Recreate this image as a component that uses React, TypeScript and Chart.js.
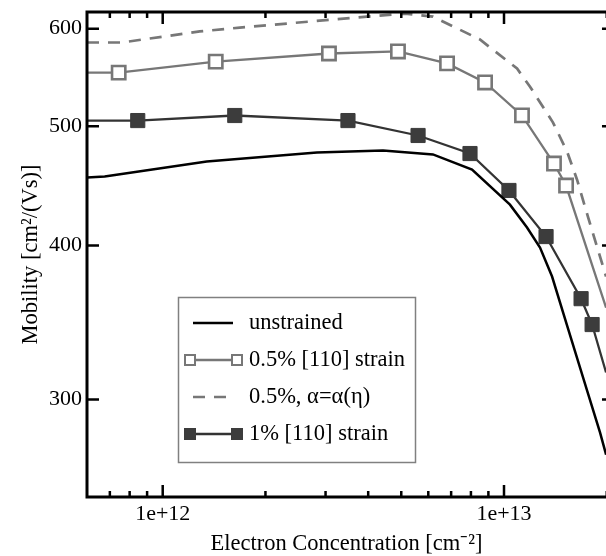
import React, { useEffect, useRef } from "react";
import { Chart, registerables } from "chart.js";

Chart.register(...registerables);

// ---------- data ----------
const seriesLabels = ["unstrained", "0.5% [110] strain", "0.5%, α=α(η)", "1% [110] strain"];

const unstrainedN = [6.0e11, 6.76e11, 1.346e12, 2.83e12, 4.42e12, 6.19e12, 8.06e12, 1.041e13, 1.168e13, 1.275e13, 1.383e13, 1.53e13, 1.751e13, 1.912e13, 1.991e13];
const unstrainedMu = [454.3, 455.1, 468.1, 476.1, 477.9, 474.3, 461.1, 431.8, 413.7, 398.5, 377.5, 344.5, 305.1, 282.0, 270.6];

const strain05N = [6.0e11, 7.43e11, 1.43e12, 3.07e12, 4.89e12, 6.81e12, 8.8e12, 1.129e13, 1.401e13, 1.52e13, 1.991e13];
const strain05Mu = [552.7, 552.7, 564.2, 572.8, 575.0, 562.3, 542.6, 510.2, 466.3, 447.5, 356.2];
const strain05Marked = [false, true, true, true, true, true, true, true, true, true, false];

const alphaN = [6.0e11, 7.58e11, 1.284e12, 1.682e12, 3.966e12, 5.13e12, 6.19e12, 8.5e12, 1.092e13, 1.192e13, 1.392e13, 1.53e13, 1.637e13, 1.764e13, 1.991e13];
const alphaMu = [584.7, 584.7, 596.9, 601.2, 613.7, 617.2, 613.7, 588.0, 556.9, 538.3, 503.4, 476.9, 452.4, 421.6, 377.5];

const strain1N = [6.0e11, 8.45e11, 1.626e12, 3.49e12, 5.6e12, 7.95e12, 1.034e13, 1.328e13, 1.682e13, 1.812e13, 1.991e13];
const strain1Mu = [505.3, 505.3, 510.1, 505.3, 491.4, 475.1, 443.4, 406.8, 362.2, 345.1, 315.5];
const strain1Marked = [false, true, true, true, true, true, true, true, true, true, false];

const xMin = 6.0e11;
const xMax = 1.99e13;
const xFrameMax = 2.1e13;
const yMin = 250;
const yMax = 619;
const xMajorTicks = [1e12, 1e13];
const xTickLabels = ["1e+12", "1e+13"];
const xMinorTicks = [7e11, 8e11, 9e11, 2e12, 3e12, 4e12, 5e12, 6e12, 7e12, 8e12, 9e12, 2e13];
const yTicks = [300, 400, 500, 600];
const yTickLabels = ["300", "400", "500", "600"];

const xTitle = "Electron Concentration [cm⁻²]";
const yTitle = "Mobility [cm²/(Vs)]";

// ---------- styles ----------
const FONT = "'Liberation Serif', 'Times New Roman', serif";
const GRAY = "#777777";
const DARK = "#3c3c3c";

const toPts = (xs: number[], ys: number[]) => xs.map((x, i) => ({ x, y: ys[i] }));

const framePlugin = {
  id: "frameAndLegend",
  afterDatasetsDraw(chart: any) {
    const { ctx, chartArea, scales } = chart;
    const xs = scales.x;
    const ys = scales.y;
    const left = chartArea.left;
    const top = chartArea.top;
    const bottom = chartArea.bottom;
    const right = xs.getPixelForValue(xFrameMax);
    ctx.save();
    ctx.strokeStyle = "#000";
    ctx.lineWidth = 3;
    ctx.beginPath();
    ctx.rect(left, top, right - left, bottom - top);
    ctx.stroke();
    ctx.lineWidth = 2.5;
    const vtick = (v: number, len: number) => {
      const p = xs.getPixelForValue(v);
      if (p < left || p > right) return;
      ctx.beginPath();
      ctx.moveTo(p, bottom);
      ctx.lineTo(p, bottom - len);
      ctx.moveTo(p, top);
      ctx.lineTo(p, top + len);
      ctx.stroke();
    };
    xMajorTicks.forEach((v) => vtick(v, 12));
    xMinorTicks.forEach((v) => vtick(v, 6));
    yTicks.forEach((v) => {
      const p = ys.getPixelForValue(v);
      ctx.beginPath();
      ctx.moveTo(left, p);
      ctx.lineTo(left + 12, p);
      ctx.moveTo(right, p);
      ctx.lineTo(right - 12, p);
      ctx.stroke();
    });
    ctx.restore();

    // legend
    const box = { l: 178, t: 297, w: 237, h: 165 };
    const rowY = [323, 360, 397, 434];
    ctx.save();
    ctx.fillStyle = "#fff";
    ctx.fillRect(box.l, box.t, box.w, box.h);
    ctx.strokeStyle = "#808080";
    ctx.lineWidth = 1.5;
    ctx.strokeRect(box.l + 0.5, box.t + 0.5, box.w, box.h);
    chart.data.datasets.forEach((ds: any, i: number) => {
      const y = rowY[i];
      const hasMarker = ds.pointStyle === "rect";
      const x1 = hasMarker ? 190 : 193;
      const x2 = hasMarker ? 237 : 233;
      ctx.save();
      ctx.strokeStyle = ds.borderColor;
      ctx.lineWidth = ds.borderWidth;
      ctx.setLineDash(ds.borderDash || []);
      ctx.beginPath();
      ctx.moveTo(x1, y);
      ctx.lineTo(x2, y);
      ctx.stroke();
      ctx.restore();
      if (hasMarker) {
        const s = 10;
        [x1, x2].forEach((cx) => {
          ctx.fillStyle = ds.legendFill;
          ctx.fillRect(cx - s / 2, y - s / 2, s, s);
          ctx.strokeStyle = ds.pointBorderColor;
          ctx.lineWidth = 2;
          ctx.strokeRect(cx - s / 2, y - s / 2, s, s);
        });
      }
      ctx.fillStyle = "#000";
      ctx.font = `22.5px ${FONT}`;
      ctx.textBaseline = "middle";
      ctx.textAlign = "left";
      ctx.fillText(ds.label, 249, y);
    });
    ctx.restore();
  },
};

export default function App() {
  const ref = useRef<HTMLCanvasElement | null>(null);

  useEffect(() => {
    if (!ref.current) return;
    document.body.style.margin = "0";
    const markRadius = (marked: boolean[], r: number) => marked.map((m) => (m ? r : 0));
    const chart = new Chart(ref.current, {
      type: "line",
      data: {
        datasets: [
          {
            label: seriesLabels[0],
            data: toPts(unstrainedN, unstrainedMu),
            borderColor: "#000",
            borderWidth: 2.5,
            pointRadius: 0,
            tension: 0,
          },
          {
            label: seriesLabels[1],
            data: toPts(strain05N, strain05Mu),
            borderColor: GRAY,
            borderWidth: 2.3,
            pointStyle: "rect",
            pointRadius: markRadius(strain05Marked, 9.4),
            pointBackgroundColor: "#fff",
            pointBorderColor: GRAY,
            pointBorderWidth: 2.6,
            legendFill: "#fff",
            tension: 0,
          } as any,
          {
            label: seriesLabels[2],
            data: toPts(alphaN, alphaMu),
            borderColor: GRAY,
            borderWidth: 2.7,
            borderDash: [12, 9],
            pointRadius: 0,
            tension: 0,
          },
          {
            label: seriesLabels[3],
            data: toPts(strain1N, strain1Mu),
            borderColor: "#333",
            borderWidth: 2.3,
            pointStyle: "rect",
            pointRadius: markRadius(strain1Marked, 10),
            pointBackgroundColor: DARK,
            pointBorderColor: DARK,
            pointBorderWidth: 1,
            legendFill: DARK,
            tension: 0,
          } as any,
        ],
      },
      options: {
        responsive: false,
        animation: false,
        devicePixelRatio: 1,
        layout: { padding: { top: 12, right: 0, left: 0, bottom: 0 } },
        plugins: { legend: { display: false }, tooltip: { enabled: false } },
        scales: {
          x: {
            type: "logarithmic",
            min: xMin,
            max: xMax,
            grid: { display: false, drawTicks: false },
            border: { display: false },
            afterBuildTicks: (s: any) => {
              s.ticks = xMajorTicks.map((v) => ({ value: v }));
            },
            ticks: {
              autoSkip: false,
              maxRotation: 0,
              padding: 6,
              color: "#000",
              font: { family: FONT, size: 22, lineHeight: 1 },
              callback: (v: any) => {
                const i = xMajorTicks.indexOf(Number(v));
                return i >= 0 ? xTickLabels[i] : "";
              },
            },
            title: {
              display: true,
              text: xTitle,
              color: "#000",
              font: { family: FONT, size: 22.5, lineHeight: 1 },
              padding: { top: 0, bottom: 1 },
            },
            afterFit: (s: any) => {
              s.height = 59;
              s.paddingLeft = 0;
              s.paddingRight = 0;
              s.paddingTop = 0;
              s.paddingBottom = 0;
            },
          },
          y: {
            type: "logarithmic",
            min: yMin,
            max: yMax,
            grid: { display: false, drawTicks: false },
            border: { display: false },
            afterBuildTicks: (s: any) => {
              s.ticks = yTicks.map((v) => ({ value: v }));
            },
            ticks: {
              autoSkip: false,
              padding: 5,
              color: "#000",
              font: { family: FONT, size: 22, lineHeight: 1 },
              callback: (v: any) => {
                const i = yTicks.indexOf(Number(v));
                return i >= 0 ? yTickLabels[i] : "";
              },
            },
            title: {
              display: true,
              text: yTitle,
              color: "#000",
              font: { family: FONT, size: 22.5, lineHeight: 1 },
              padding: { top: 20, bottom: 0 },
            },
            afterFit: (s: any) => {
              s.width = 87;
              s.paddingLeft = 0;
              s.paddingRight = 0;
              s.paddingTop = 0;
              s.paddingBottom = 0;
            },
          },
        },
      } as any,
      plugins: [framePlugin],
    });
    return () => chart.destroy();
  }, []);

  return (
    <div style={{ position: "fixed", left: 0, top: 0, width: 606, height: 556, background: "#fff" }}>
      <canvas ref={ref} width={606} height={556} style={{ display: "block" }} />
    </div>
  );
}
